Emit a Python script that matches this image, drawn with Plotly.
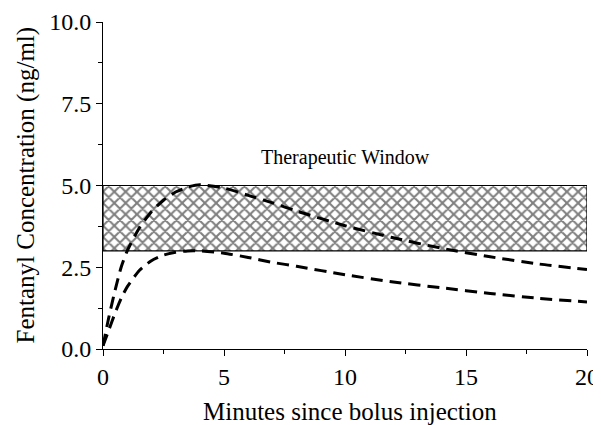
import plotly.graph_objects as go

# minutes after bolus
minutes = [0, 0.25, 0.5, 0.75, 1, 1.5, 2, 2.5, 3, 3.5, 4, 5, 6, 7, 8, 10, 12, 14, 16, 18, 20]
# higher dose curve (ng/ml)
conc_high = [0.1, 1.0, 1.8, 2.5, 3.0, 3.7, 4.2, 4.55, 4.8, 4.95, 5.02, 4.92, 4.7, 4.47, 4.22,
             3.77, 3.4, 3.08, 2.82, 2.6, 2.43]
# lower dose curve (ng/ml)
conc_low = [0.1, 0.6, 1.1, 1.55, 1.9, 2.4, 2.7, 2.87, 2.96, 3.0, 3.0, 2.93, 2.8, 2.65, 2.53,
            2.27, 2.05, 1.87, 1.7, 1.55, 1.44]

# therapeutic window
window_low = 3.0
window_high = 5.0
window_start = 0
window_end = 20

serif = "Liberation Serif"

fig = go.Figure()

# hatched therapeutic band
fig.add_trace(go.Scatter(
    x=[window_start, window_end, window_end, window_start, window_start],
    y=[window_low, window_low, window_high, window_high, window_low],
    fill='toself',
    fillcolor='rgba(255,255,255,0)',
    fillpattern=dict(shape='x', size=8, solidity=0.45, fgcolor='black', bgcolor='white'),
    line=dict(color='black', width=1.2),
    mode='lines',
    hoverinfo='skip',
    showlegend=False
))

for y in (conc_high, conc_low):
    fig.add_trace(go.Scatter(
        x=minutes, y=y,
        mode='lines',
        line=dict(color='black', width=3, dash='12px,7px', shape='spline', smoothing=0.6),
        showlegend=False
    ))

fig.add_annotation(
    x=(window_start + window_end) / 2, y=window_high + 0.85,
    text="Therapeutic Window", showarrow=False,
    font=dict(family=serif, size=20, color='black')
)

# axis titles placed as annotations for exact spacing
fig.add_annotation(
    xref='paper', yref='paper', x=0.5, y=0, xshift=5, yshift=-62,
    xanchor='center', yanchor='middle',
    text="Minutes since bolus injection", showarrow=False,
    font=dict(family=serif, size=25, color='black')
)
fig.add_annotation(
    xref='paper', yref='paper', x=0, y=0.5, xshift=-78, textangle=-90,
    xanchor='center', yanchor='middle',
    text="Fentanyl Concentration (ng/ml)", showarrow=False,
    font=dict(family=serif, size=25, color='black')
)

# page body adds 8px offset, so figure is a bit smaller than the window
fig.update_layout(
    width=593, height=417,
    margin=dict(l=95, r=14, t=14, b=76),
    paper_bgcolor='white', plot_bgcolor='white',
    font=dict(family=serif, size=24, color='black'),
    xaxis=dict(
        range=[0, 20], tickvals=[0, 5, 10, 15, 20],
        ticks='outside', ticklen=6, tickcolor='black',
        minor=dict(tickvals=[2.5, 7.5, 12.5, 17.5], ticks='outside', ticklen=4, tickcolor='black'),
        showline=True, linecolor='black', linewidth=1,
        showgrid=False, zeroline=False, automargin=False
    ),
    yaxis=dict(
        range=[0, 10], tickvals=[0, 2.5, 5, 7.5, 10], tickformat='.1f',
        ticksuffix='\u00a0\u00a0',
        ticks='outside', ticklen=6, tickcolor='black',
        minor=dict(tickvals=[1.25, 3.75, 6.25, 8.75], ticks='outside', ticklen=4, tickcolor='black'),
        showline=True, linecolor='black', linewidth=1,
        showgrid=False, zeroline=False, automargin=False
    )
)

fig.write_html("out.html")
